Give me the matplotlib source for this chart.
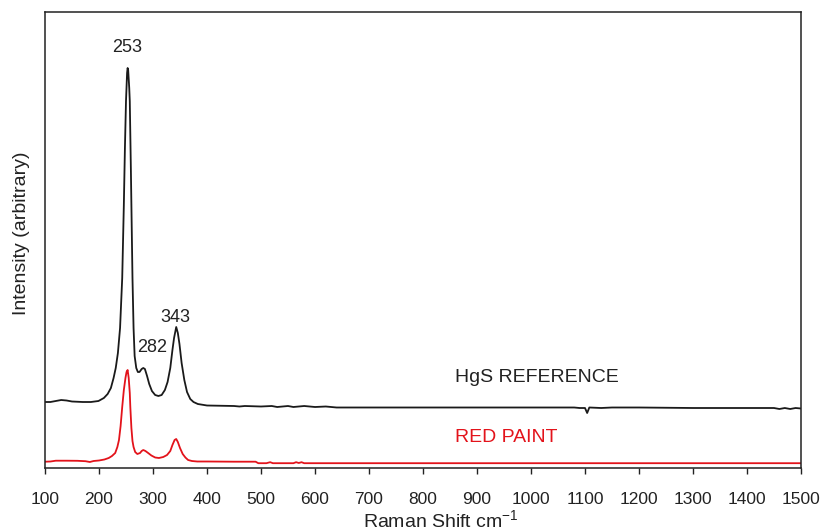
import matplotlib
matplotlib.use("Agg")
import matplotlib.pyplot as plt

# Raman spectra: HgS (cinnabar) reference and a red paint sample
hgs_shift = [100, 110, 120, 130, 140, 150, 170, 185, 199, 209, 216, 222, 227, 231, 235,
             239, 243, 246, 248, 250, 252, 253, 254, 256, 257, 259, 260, 262, 264, 266,
             269, 272, 275, 279, 282, 285, 289, 293, 298, 304, 310, 316, 322, 327, 332,
             336, 339, 343, 346, 349, 353, 358, 363, 369, 375, 383, 400, 450, 460, 470,
             500, 520, 530, 550, 560, 580, 600, 620, 640, 700, 800, 900, 1000, 1080, 1090,
             1100, 1104, 1108, 1130, 1150, 1200, 1300, 1400, 1450, 1460, 1470, 1480, 1490, 1500]
hgs_intensity = [66, 66, 67, 68, 67.5, 66.5, 66, 66, 67, 70, 74, 80, 90, 100, 115,
                 140, 190, 263, 320, 367, 395, 400, 398, 380, 367, 300, 263, 190, 140, 112,
                 100, 96, 96, 99, 100, 99, 92, 84, 77, 73, 72, 73, 78, 86, 100,
                 118, 130, 141, 135, 124, 105, 88, 76, 69, 66, 64, 62.5, 62, 61.5, 62,
                 61.5, 62, 61, 62, 61, 62, 61, 61.5, 60.5, 60.5, 60.5, 60.5, 60.5, 60.5, 60,
                 60, 55, 60.5, 60, 60.5, 60.5, 60, 60, 60, 59, 60, 59, 60, 59.5]

paint_shift = [100, 110, 120, 140, 160, 175, 183, 190, 200, 210, 218, 224, 230, 234, 237,
               240, 243, 246, 249, 251, 253, 255, 257, 258, 260, 262, 264, 267, 271, 276,
               279, 282, 286, 291, 297, 304, 311, 319, 326, 332, 336, 340, 343, 346, 350,
               355, 360, 365, 372, 382, 400, 450, 490, 495, 510, 517, 522, 560, 565, 570,
               575, 580, 700, 1000, 1250, 1500]
paint_intensity = [6.3, 6.5, 7.3, 7.3, 7.2, 6.8, 6.0, 7.0, 7.5, 8.5, 10, 12, 15, 21, 28,
                   42, 61, 78, 90, 96, 98, 90, 75, 61, 40, 27, 21, 16, 14, 15,
                   17, 18, 17, 15, 12.5, 10.5, 10, 11, 13, 17, 23, 28, 29, 26, 20,
                   14, 10.5, 8, 7, 6.5, 6.5, 6.3, 6.3, 4.8, 4.8, 5.8, 4.8, 4.8, 5.8, 5.0,
                   5.8, 4.8, 4.8, 4.8, 4.8, 4.8]

peak_labels = [253, 282, 343]
x_ticks = list(range(100, 1501, 100))

plt.rcParams["font.family"] = ["Liberation Sans", "DejaVu Sans"]
plt.rcParams["mathtext.fontset"] = "custom"
plt.rcParams["mathtext.rm"] = "Liberation Sans"
plt.rcParams["mathtext.it"] = "Liberation Sans:italic"

W, H = 824, 530
fig = plt.figure(figsize=(W / 100, H / 100), dpi=100)
ax = fig.add_axes([45 / W, (H - 468) / H, 756 / W, 456 / H])

ax.plot(hgs_shift, hgs_intensity, color="#1a1a1a", lw=1.3)
ax.plot(paint_shift, paint_intensity, color="#e3131b", lw=1.3)

ax.set_xlim(100, 1500)
ax.set_ylim(0, 456)
ax.set_xticks(x_ticks)
ax.set_xticklabels([str(t) for t in x_ticks], fontsize=12.5)
ax.set_yticks([])
ax.tick_params(axis="x", direction="out", length=4, width=1, pad=13, colors="#222222")
for sp in ax.spines.values():
    sp.set_linewidth(1.1)
    sp.set_color("#222222")

# peak annotations, offsets in pixels (x, y above apex)
offsets = {253: (0, 20), 282: (9, 20), 343: (-1, 10)}
for p in peak_labels:
    h = max(v for s, v in zip(hgs_shift, hgs_intensity) if s == p)
    dx, dy = offsets[p]
    ax.annotate(str(p), xy=(p, h), xytext=(dx * 0.72, dy * 0.72),
                textcoords="offset points", ha="center", va="center",
                fontsize=13, color="#222222")

ax.text(859, 91, "HgS REFERENCE", fontsize=14, color="#222222", va="center", ha="left")
ax.text(859, 30, "RED PAINT", fontsize=14, color="#e3131b", va="center", ha="left")

fig.text(22 / W, (H - 233) / H, "Intensity (arbitrary)", rotation=90,
         fontsize=14, color="#222222", ha="center", va="center")
fig.text(363 / W, (H - 527) / H, "Raman Shift cm$^{-1}$", fontsize=14,
         color="#222222", ha="left", va="baseline")

fig.savefig("out.png", dpi=100)
